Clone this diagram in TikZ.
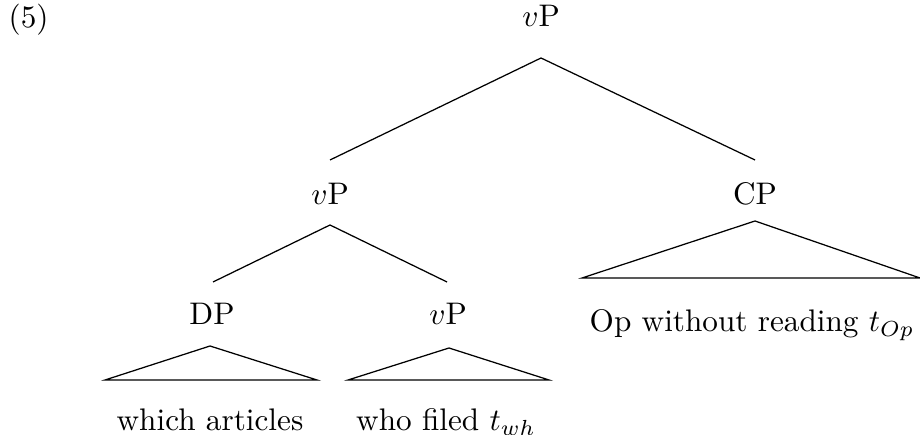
\documentclass[tikz,border=0pt]{standalone}
\usepackage{amsmath}
\usepackage{tikz}
\usetikzlibrary{positioning}

\begin{document}
\begin{tikzpicture}[
    x=0.3205pt, y=-0.3205pt,
    lab/.style={anchor=base, inner sep=0pt},
    tri/.style={draw, line join=miter}
]
\useasboundingbox (0,0) rectangle (920,435);

\node[lab, anchor=base west] (ex) at (8,28) {(5)};

\node[lab] (vp0) at (541,27) {$v$P};
    \node[lab] (vp1) at (330,205) {$v$P};
    \node[lab] (cp) at (755,205) {CP};
    \node[lab] (dp) at (212,325) {DP};
    \node[lab] (vp2) at (448,325) {$v$P};

\node[lab] (op) at (752,332) {Op without reading $t_{Op}$};
    \node[lab] (wa) at (210,431) {which articles};
    \node[lab] (wf) at (446,431) {who filed $t_{wh}$};

\coordinate (vp0-s) at (541,58);
    \coordinate (vp1-n) at (330,160);
    \coordinate (cp-n) at (755,160);
    \coordinate (vp1-s) at (330,225);
    \coordinate (dp-n) at (213,282);
    \coordinate (vp2-n) at (447,282);

\draw (vp0-s) -- (vp1-n);
    \draw (vp0-s) -- (cp-n);
    \draw (vp1-s) -- (dp-n);
    \draw (vp1-s) -- (vp2-n);

% roof triangles
    \draw[tri] (755,221) -- (920,278) -- (582,278) -- cycle;
    \draw[tri] (210,346) -- (317,380) -- (105,380) -- cycle;
    \draw[tri] (449,348) -- (549,380) -- (348,380) -- cycle;
\end{tikzpicture}
\end{document}
